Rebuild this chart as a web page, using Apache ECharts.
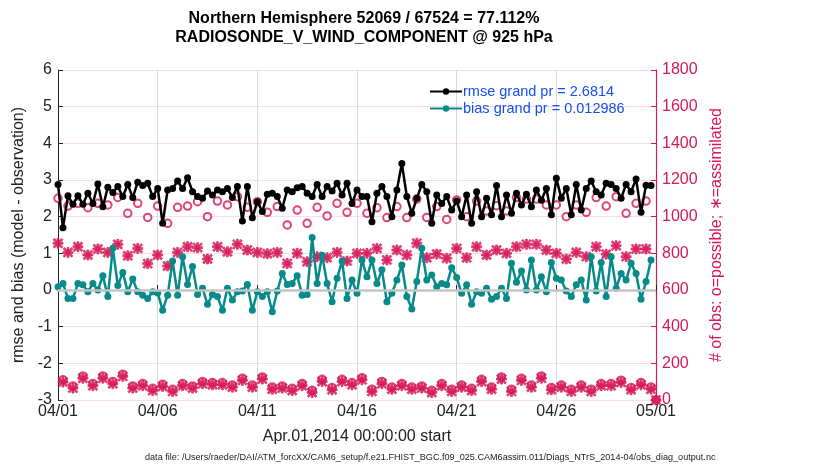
<!DOCTYPE html>
<html>
<head>
<meta charset="utf-8">
<script src="https://cdn.jsdelivr.net/npm/echarts@6/dist/echarts.min.js"></script>
<style>
  html, body { margin: 0; padding: 0; background: #fff; }
  #chart { width: 830px; height: 470px; }
</style>
</head>
<body>
<div id="chart"></div>
<script>
var chart = echarts.init(document.getElementById('chart'));

// tick labels, one every 5 days from 04/01
var dateLabels = ['04/01', '04/06', '04/11', '04/16', '04/21', '04/26', '05/01'];

// 6-hourly values, 04/01 00Z .. 04/30 18Z
var rmse = [2.88, 1.70, 2.57, 2.34, 2.57, 2.34, 2.64, 2.36, 2.89, 2.27,
    2.80, 2.66, 2.82, 2.55, 2.88, 2.52, 2.94, 2.85, 2.91, 2.55,
    2.77, 1.82, 2.73, 2.77, 2.97, 2.77, 3.06, 2.68, 2.55, 2.50,
    2.70, 2.59, 2.73, 2.68, 2.77, 2.52, 2.82, 1.88, 2.82, 1.97,
    2.41, 2.14, 2.61, 2.64, 2.55, 2.23, 2.73, 2.68, 2.79, 2.82,
    2.64, 2.55, 2.88, 2.55, 2.82, 2.70, 2.91, 2.59, 2.91, 2.36,
    2.73, 2.55, 2.55, 1.86, 2.64, 2.82, 2.55, 2.00, 2.73, 3.45,
    2.55, 2.09, 2.50, 2.88, 2.68, 1.82, 2.59, 2.36, 2.55, 2.18,
    2.43, 2.00, 2.59, 1.82, 2.68, 2.00, 2.50, 2.05, 2.85, 2.00,
    2.59, 2.09, 2.64, 2.32, 2.61, 2.27, 2.73, 2.45, 2.77, 2.05,
    3.05, 2.50, 2.77, 2.05, 2.88, 2.18, 2.77, 2.97, 2.68, 2.59,
    2.91, 2.88, 2.77, 2.50, 2.88, 2.68, 3.03, 2.12, 2.86, 2.85];

var bias = [0.09, 0.18, -0.23, -0.23, 0.18, 0.14, -0.05, 0.18, 0.00, 0.39,
    -0.18, 1.14, 0.12, 0.48, -0.05, 0.30, -0.05, -0.14, -0.23, -0.05,
    -0.08, -0.55, -0.14, 0.79, -0.14, 0.91, 0.15, 0.64, -0.12, 0.05,
    -0.39, -0.12, -0.18, -0.55, 0.05, -0.27, -0.05, -0.03, 0.15, -0.55,
    -0.05, -0.18, -0.05, -0.59, -0.03, 0.45, 0.15, 0.18, 0.39, -0.14,
    -0.12, 1.43, 0.18, 0.95, 0.18, -0.32, 0.32, 0.79, -0.23, 0.27,
    -0.09, 0.82, 0.36, 0.82, 0.18, 0.55, -0.32, -0.09, 0.27, 0.68,
    -0.18, -0.52, 0.23, 1.14, 0.27, 0.41, 0.09, 0.18, 0.14, 0.61,
    0.34, -0.09, 0.14, -0.39, -0.05, -0.09, 0.05, -0.25, -0.18, 0.05,
    -0.23, 0.73, 0.21, 0.52, 0.00, 0.82, 0.00, 0.36, -0.05, 0.75,
    0.32, 0.27, -0.03, -0.18, 0.14, 0.27, -0.27, 0.91, -0.03, 0.75,
    -0.18, 0.91, 0.05, 0.45, 0.27, 0.73, 0.45, -0.25, 0.23, 0.82];

// obs counts, 04/01 00Z .. 05/01 00Z
var possible = [1100, 110, 1058, 77, 1073, 131, 1049, 90, 1073, 131,
    1064, 101, 1105, 141, 1018, 77, 1073, 90, 996, 64,
    1058, 86, 964, 59, 1051, 90, 1058, 77, 1082, 101,
    1000, 95, 1085, 95, 1064, 82, 1109, 119, 1051, 82,
    1082, 126, 1024, 71, 1055, 77, 955, 64, 1036, 90,
    964, 53, 1051, 113, 1004, 68, 1073, 113, 1024, 95,
    1073, 122, 1018, 59, 1049, 101, 995, 71, 1055, 90,
    995, 71, 1096, 77, 996, 53, 1055, 90, 985, 59,
    1091, 82, 1000, 64, 1085, 113, 1031, 71, 1060, 126,
    1031, 59, 1104, 119, 1096, 82, 1096, 131, 1064, 68,
    1064, 82, 1000, 59, 1064, 82, 1024, 59, 1104, 90,
    1058, 90, 1109, 108, 1018, 68, 1073, 95, 1085, 71,
    0];

var assimilated = [855, 98, 805, 65, 836, 119, 791, 78, 824, 119,
    805, 89, 849, 129, 787, 65, 827, 78, 744, 52,
    791, 74, 731, 47, 805, 78, 836, 65, 831, 89,
    769, 83, 836, 83, 809, 70, 849, 107, 818, 70,
    805, 114, 798, 59, 805, 65, 745, 52, 800, 78,
    754, 41, 782, 101, 776, 56, 805, 101, 758, 83,
    800, 110, 800, 47, 827, 89, 764, 59, 818, 78,
    791, 59, 855, 65, 776, 41, 796, 78, 773, 47,
    827, 70, 776, 52, 836, 101, 791, 59, 818, 114,
    800, 47, 836, 107, 849, 70, 849, 119, 818, 56,
    800, 70, 769, 47, 805, 70, 782, 47, 836, 78,
    795, 78, 842, 96, 782, 56, 824, 83, 824, 59,
    0];

var crimson = '#d6175a';
var teal = '#078a8a';
var font = 'Helvetica, Arial, sans-serif';

function toXY(arr) {
    return arr.map(function (v, i) { return [i / 4, v]; });
}

var asterisk = 'path://M4,0H6V10H4Z M0,4H10V6H0Z M1.46,0.05L9.95,8.54L8.54,9.95L0.05,1.46Z M8.54,0.05L9.95,1.46L1.46,9.95L0.05,8.54Z';

var option = {
    animation: false,
    backgroundColor: '#fff',
    textStyle: { fontFamily: font },
    title: {
        text: 'Northern Hemisphere 52069 / 67524 = 77.112%\nRADIOSONDE_V_WIND_COMPONENT @ 925 hPa',
        left: 359,
        top: 4,
        textAlign: 'center',
        textStyle: { fontSize: 16, fontWeight: 'bold', color: '#000', lineHeight: 19, fontFamily: font }
    },
    legend: {
        data: ['rmse grand pr = 2.6814', 'bias grand pr = 0.012986'],
        orient: 'vertical',
        left: 424,
        top: 79,
        itemWidth: 32,
        itemHeight: 8,
        itemGap: 2,
        textStyle: { color: '#1450f0', fontSize: 14.5, fontFamily: font, padding: [0, 0, 0, -4] }
    },
    grid: { left: 58, right: 174, top: 70, bottom: 70 },
    xAxis: {
        type: 'value',
        min: 0,
        max: 30,
        interval: 5,
        name: 'Apr.01,2014 00:00:00 start',
        nameLocation: 'middle',
        nameGap: 29,
        nameTextStyle: { fontSize: 16, color: '#222' },
        axisLine: { lineStyle: { color: '#222', width: 1 } },
        axisTick: { inside: true, length: 5, lineStyle: { color: '#222' } },
        axisLabel: {
            fontSize: 16, color: '#222', margin: 4,
            formatter: function (v) { return dateLabels[Math.round(v / 5)]; }
        },
        splitLine: { show: true, lineStyle: { color: '#dadada', width: 1 } }
    },
    yAxis: [{
        type: 'value',
        min: -3,
        max: 6,
        interval: 1,
        name: 'rmse and bias (model - observation)',
        nameLocation: 'middle',
        nameRotate: 90,
        nameGap: 31,
        nameTextStyle: { fontSize: 16, color: '#222' },
        axisLine: { show: true, lineStyle: { color: '#222', width: 1 } },
        axisTick: { show: true, inside: true, length: 5, lineStyle: { color: '#222' } },
        axisLabel: { fontSize: 16, color: '#222', margin: 6 },
        splitLine: { show: false }
    }, {
        type: 'value',
        position: 'right',
        min: 0,
        max: 1800,
        interval: 200,
        name: '# of obs: o=possible; \u2217=assimilated',
        nameLocation: 'middle',
        nameRotate: 90,
        nameGap: 49,
        nameTextStyle: { fontSize: 16, color: crimson },
        axisLine: { show: true, lineStyle: { color: crimson, width: 1.2 } },
        axisTick: { show: true, inside: true, length: 5, lineStyle: { color: crimson } },
        axisLabel: { fontSize: 16, color: crimson, margin: 6, formatter: function (v) { return String(v); } },
        splitLine: { show: true, lineStyle: { color: 'rgba(214,23,90,0.15)', width: 1 } }
    }],
    graphic: [{
        type: 'text',
        left: 145,
        top: 453,
        style: {
            text: 'data file: /Users/raeder/DAI/ATM_forcXX/CAM6_setup/f.e21.FHIST_BGC.f09_025.CAM6assim.011/Diags_NTrS_2014-04/obs_diag_output.nc',
            fontSize: 9.1, fill: '#222', fontFamily: font
        }
    }],
    series: [{
        name: 'possible',
        type: 'scatter',
        yAxisIndex: 1,
        z: 2,
        symbol: 'emptyCircle',
        symbolSize: 7.5,
        itemStyle: { color: crimson, borderWidth: 2 },
        data: toXY(possible)
    }, {
        name: 'assimilated',
        type: 'scatter',
        yAxisIndex: 1,
        z: 2,
        symbol: asterisk,
        symbolSize: 10,
        itemStyle: { color: crimson, borderColor: crimson, borderWidth: 0.8 },
        data: toXY(assimilated)
    }, {
        name: 'rmse grand pr = 2.6814',
        type: 'line',
        z: 3,
        symbol: 'circle',
        symbolSize: 7,
        showSymbol: true,
        lineStyle: { color: '#000', width: 2.5 },
        itemStyle: { color: '#000' },
        data: toXY(rmse),
        markLine: {
            silent: true,
            symbol: 'none',
            label: { show: false },
            lineStyle: { color: '#c4c4c4', width: 2.5, type: 'solid' },
            data: [{ yAxis: 0 }]
        }
    }, {
        name: 'bias grand pr = 0.012986',
        type: 'line',
        z: 4,
        symbol: 'circle',
        symbolSize: 7,
        showSymbol: true,
        lineStyle: { color: teal, width: 2.5 },
        itemStyle: { color: teal },
        data: toXY(bias)
    }]
};

chart.setOption(option);
</script>
</body>
</html>
